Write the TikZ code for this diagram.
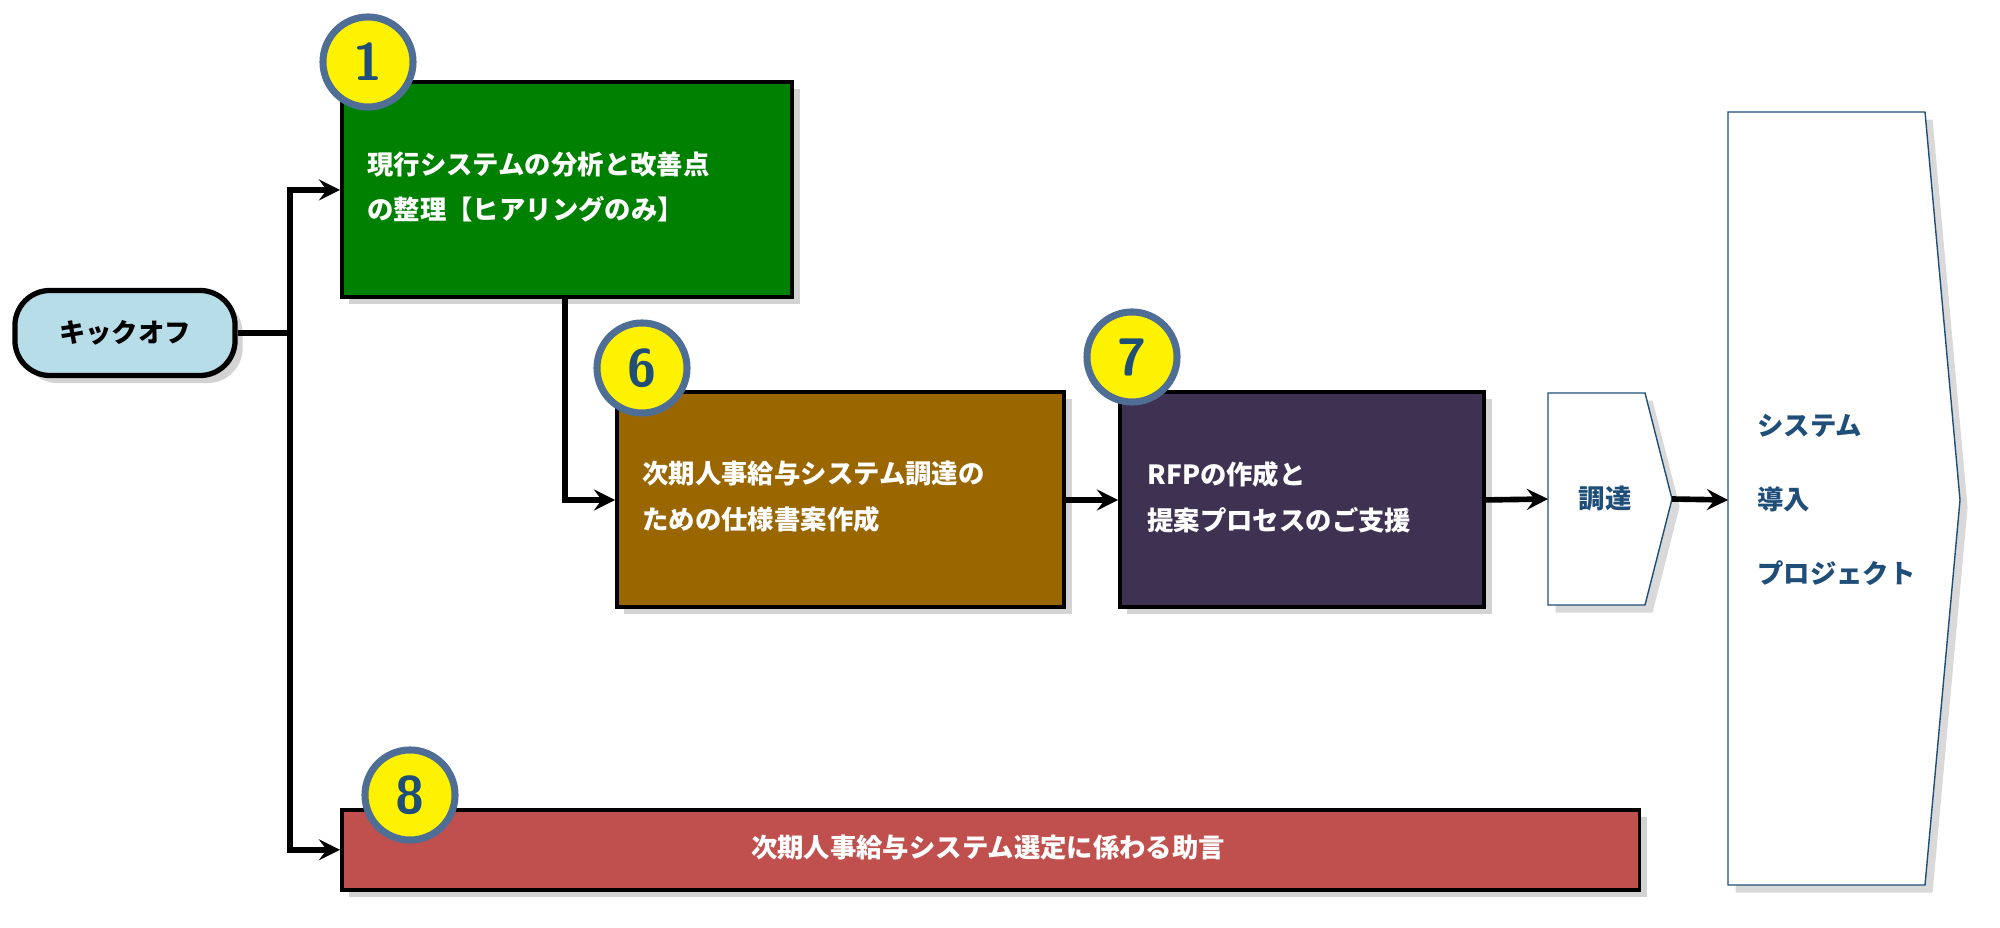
\documentclass[tikz,border=0pt]{standalone}
\usepackage{fontspec}
\newfontfamily\jp{Noto Sans CJK JP}
\usetikzlibrary{shadows,shapes.arrows,shapes.geometric}
\definecolor{kickblue}{HTML}{B7DDE8}
\definecolor{stepgreen}{HTML}{008000}
\definecolor{stepbrown}{HTML}{996600}
\definecolor{steppurple}{HTML}{3F3151}
\definecolor{stepred}{HTML}{C0504D}
\definecolor{edgeblue}{HTML}{1F4E79}
\definecolor{numring}{HTML}{4F6E96}
\tikzset{
  stepbox/.style={draw=black, line width=1pt, anchor=north west, text=white,
    font=\jp\bfseries\fontsize{7.5}{13}\selectfont, align=left, inner sep=0pt,
    drop shadow={opacity=0.35}},
  numcirc/.style={circle, fill=yellow, draw=numring, line width=2pt,
    minimum size=0.9cm, inner sep=0pt, text=edgeblue,
    font=\sffamily\bfseries\fontsize{15}{15}\selectfont},
  flow/.style={->, >=stealth, line width=1.6pt}
}
\begin{document}
\begin{tikzpicture}[x=0.01cm,y=-0.01cm]
\useasboundingbox (0,0) rectangle (2000,928);
% kickoff
\node[draw=black, line width=1.5pt, fill=kickblue, rounded corners=0.35cm,
  minimum width=2.2cm, minimum height=0.85cm, font=\jp\bfseries\fontsize{7.5}{9}\selectfont,
  drop shadow={opacity=0.35}] (kick) at (125,333) {キックオフ};
% steps
\node[stepbox, fill=stepgreen, minimum width=4.5cm, minimum height=2.15cm] (s1) at (340,80) {};
\node[text=white, font=\jp\bfseries\fontsize{7.5}{13}\selectfont, align=left, anchor=west] at (355,187)
  {現行システムの分析と改善点\\の整理【ヒアリングのみ】};
\node[numcirc] (n1) at (368,62) {1};
\node[stepbox, fill=stepbrown, minimum width=4.47cm, minimum height=2.15cm] (s6) at (615,390) {};
\node[text=white, font=\jp\bfseries\fontsize{7.5}{13}\selectfont, align=left, anchor=west] at (630,497)
  {次期人事給与システム調達の\\ための仕様書案作成};
\node[numcirc] (n6) at (642,368) {6};
\node[stepbox, fill=steppurple, minimum width=3.64cm, minimum height=2.15cm] (s7) at (1118,390) {};
\node[text=white, font=\jp\bfseries\fontsize{7.5}{13}\selectfont, align=left, anchor=west] at (1135,497)
  {RFPの作成と\\提案プロセスのご支援};
\node[numcirc] (n7) at (1132,357) {7};
\node[stepbox, fill=stepred, minimum width=12.97cm, minimum height=0.8cm] (s8) at (340,808) {};
\node[text=white, font=\jp\bfseries\fontsize{7.5}{9}\selectfont] at (988,848) {次期人事給与システム選定に係わる助言};
\node[numcirc] (n8) at (410,795) {8};
% procurement chevron
\draw[edgeblue, fill=white, drop shadow={opacity=0.3}] (1548,393) -- (1645,393) -- (1672,499) -- (1645,605) -- (1548,605) -- cycle;
\node[text=edgeblue, font=\jp\bfseries\fontsize{7.5}{9}\selectfont] (buy) at (1605,499) {調達};
\coordinate (buyL) at (1548,499);
\coordinate (buyR) at (1672,499);
% project pentagon
\draw[edgeblue, fill=white, drop shadow={opacity=0.3}] (1728,112) -- (1925,112) -- (1960,500) -- (1925,885) -- (1728,885) -- cycle;
\node[text=edgeblue, font=\jp\bfseries\fontsize{7.5}{21}\selectfont, align=left, anchor=west] (proj) at (1745,500)
  {システム\\導入\\プロジェクト};
\coordinate (projL) at (1728,500);
% connectors
\coordinate (jn) at (290,333);
\draw[line width=1.6pt] (kick.east) -- (jn);
\draw[flow] (jn) |- (s1.west |- 0,190);
\draw[flow] (jn) |- (s8.west);
\draw[flow] (565,295) |- (s6.west |- 0,500);
\draw[flow] (1062,500) -- (1118,500);
\draw[flow] (1482,500) -- (buyL);
\draw[flow] (buyR) -- (projL);
\end{tikzpicture}
\end{document}
